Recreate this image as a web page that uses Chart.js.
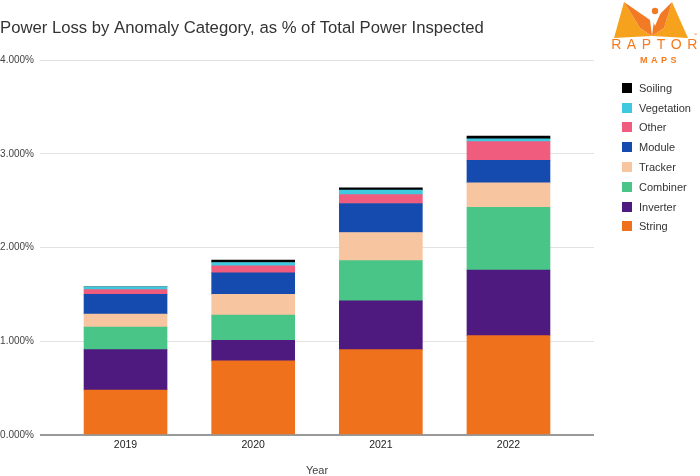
<!DOCTYPE html>
<html>
<head>
<meta charset="utf-8">
<script src="https://cdn.jsdelivr.net/npm/chart.js@4"></script>
<style>
  body { margin: 0; background: #fff; font-family: "Liberation Sans", Arial, sans-serif; }
  #wrap { position: relative; width: 700px; height: 476px; }
  #legend { position: absolute; left: 622px; top: 78px; margin: 0; padding: 0; list-style: none; }
  #legend li { height: 19.8px; display: flex; align-items: center; font-size: 11px; color: #333; }
  #legend span.sw { width: 10px; height: 10px; margin-right: 7px; }
  #logo { position: absolute; left: 603px; top: 0; width: 94px; height: 66px; }
</style>
</head>
<body>
<div id="wrap">
  <canvas id="chart" width="700" height="476"></canvas>
  <ul id="legend"></ul>
  <svg id="logo" viewBox="0 0 94 66">
    <polygon points="11,38 21,2 37,28 49,36" fill="#f7a21d"/>
    <polygon points="49,36 61,28 69,2 85,38" fill="#f7a21d"/>
    <polygon points="21,2 37,28 49,36 47,20" fill="#f27a25"/>
    <polygon points="69,2 61,28 49,36 51,20" fill="#f27a25"/>
    <circle cx="52" cy="11" r="6" fill="#fff"/>
    <path d="M46,12 L52,26 L58,12 Z" fill="#fff"/>
    <circle cx="52" cy="11" r="3.2" fill="#f27a25"/>
    <text x="54" y="49" text-anchor="middle" font-size="14" letter-spacing="5.6" fill="#f47b20" font-family="Liberation Sans, Arial">RAPTOR</text>
    <text x="94" y="36" text-anchor="end" font-size="4" fill="#f47b20">™</text>
    <text x="57" y="63" text-anchor="middle" font-size="9" font-weight="bold" letter-spacing="3.5" fill="#f47b20" font-family="Liberation Sans, Arial">MAPS</text>
  </svg>
</div>
<script>
// categories (x axis)
const years = ['2019', '2020', '2021', '2022'];

// power loss per anomaly category, % of total power inspected
const stringLoss     = [0.48, 0.79, 0.91, 1.06];
const inverterLoss   = [0.43, 0.22, 0.52, 0.70];
const combinerLoss   = [0.24, 0.27, 0.43, 0.67];
const trackerLoss    = [0.14, 0.22, 0.30, 0.26];
const moduleLoss     = [0.21, 0.23, 0.31, 0.24];
const otherLoss      = [0.05, 0.075, 0.095, 0.20];
const vegetationLoss = [0.03, 0.035, 0.047, 0.03];
const soilingLoss    = [0.00, 0.025, 0.025, 0.028];

const yTicks = [0, 1, 2, 3, 4];

const series = [
  { label: 'String',     data: stringLoss,     color: '#f0711b' },
  { label: 'Inverter',   data: inverterLoss,   color: '#4e1a80' },
  { label: 'Combiner',   data: combinerLoss,   color: '#4ac588' },
  { label: 'Tracker',    data: trackerLoss,    color: '#f8c5a1' },
  { label: 'Module',     data: moduleLoss,     color: '#154bae' },
  { label: 'Other',      data: otherLoss,      color: '#ef5c7e' },
  { label: 'Vegetation', data: vegetationLoss, color: '#3ec9df' },
  { label: 'Soiling',    data: soilingLoss,    color: '#000000' }
];

const font = '"Liberation Sans", Arial, sans-serif';

const chart = new Chart(document.getElementById('chart'), {
  type: 'bar',
  data: {
    datasets: series.map(s => ({
      label: s.label,
      data: s.data.map((v, i) => ({ x: i, y: v })),
      backgroundColor: s.color,
      borderWidth: 0,
      barThickness: 83
    }))
  },
  options: {
    responsive: false,
    animation: false,
    layout: { padding: { left: 0, right: 106, bottom: 0 } },
    plugins: {
      legend: { display: false },
      tooltip: { enabled: false },
      title: {
        display: true,
        text: 'Power Loss by Anomaly Category, as % of Total Power Inspected',
        align: 'start',
        color: '#333',
        font: { family: font, size: 16.7, weight: 'normal' },
        padding: { top: 18, bottom: 22 }
      }
    },
    scales: {
      x: {
        type: 'linear',
        stacked: true,
        offset: false,
        min: -0.67,
        max: 3.67,
        grid: { display: false, drawTicks: false },
        border: { display: false },
        ticks: {
          stepSize: 1,
          includeBounds: false,
          padding: 4,
          color: '#222',
          font: { family: font, size: 10.5 },
          callback: v => years[v] ?? ''
        },
        title: {
          display: true,
          text: 'Year',
          color: '#444',
          font: { family: font, size: 11 },
          padding: { top: 8, bottom: -2 }
        },
        afterFit: s => { s.height = 41; }
      },
      y: {
        stacked: true,
        min: 0,
        max: 4,
        grid: {
          drawTicks: false,
          color: c => c.tick.value === 0 ? '#999' : '#e2e2e2',
          lineWidth: c => c.tick.value === 0 ? 2 : 1
        },
        border: { display: false },
        afterBuildTicks: s => { s.ticks = yTicks.map(v => ({ value: v })); },
        ticks: {
          padding: 6,
          color: '#444',
          font: { family: font, size: 10 },
          callback: v => v.toFixed(3) + '%'
        },
        afterFit: s => { s.width = 40; }
      }
    }
  }
});

// legend, top item = last stacked series
const legend = document.getElementById('legend');
series.slice().reverse().forEach(s => {
  const li = document.createElement('li');
  li.innerHTML = '<span class="sw" style="background:' + s.color + '"></span>' + s.label;
  legend.appendChild(li);
});
</script>
</body>
</html>
